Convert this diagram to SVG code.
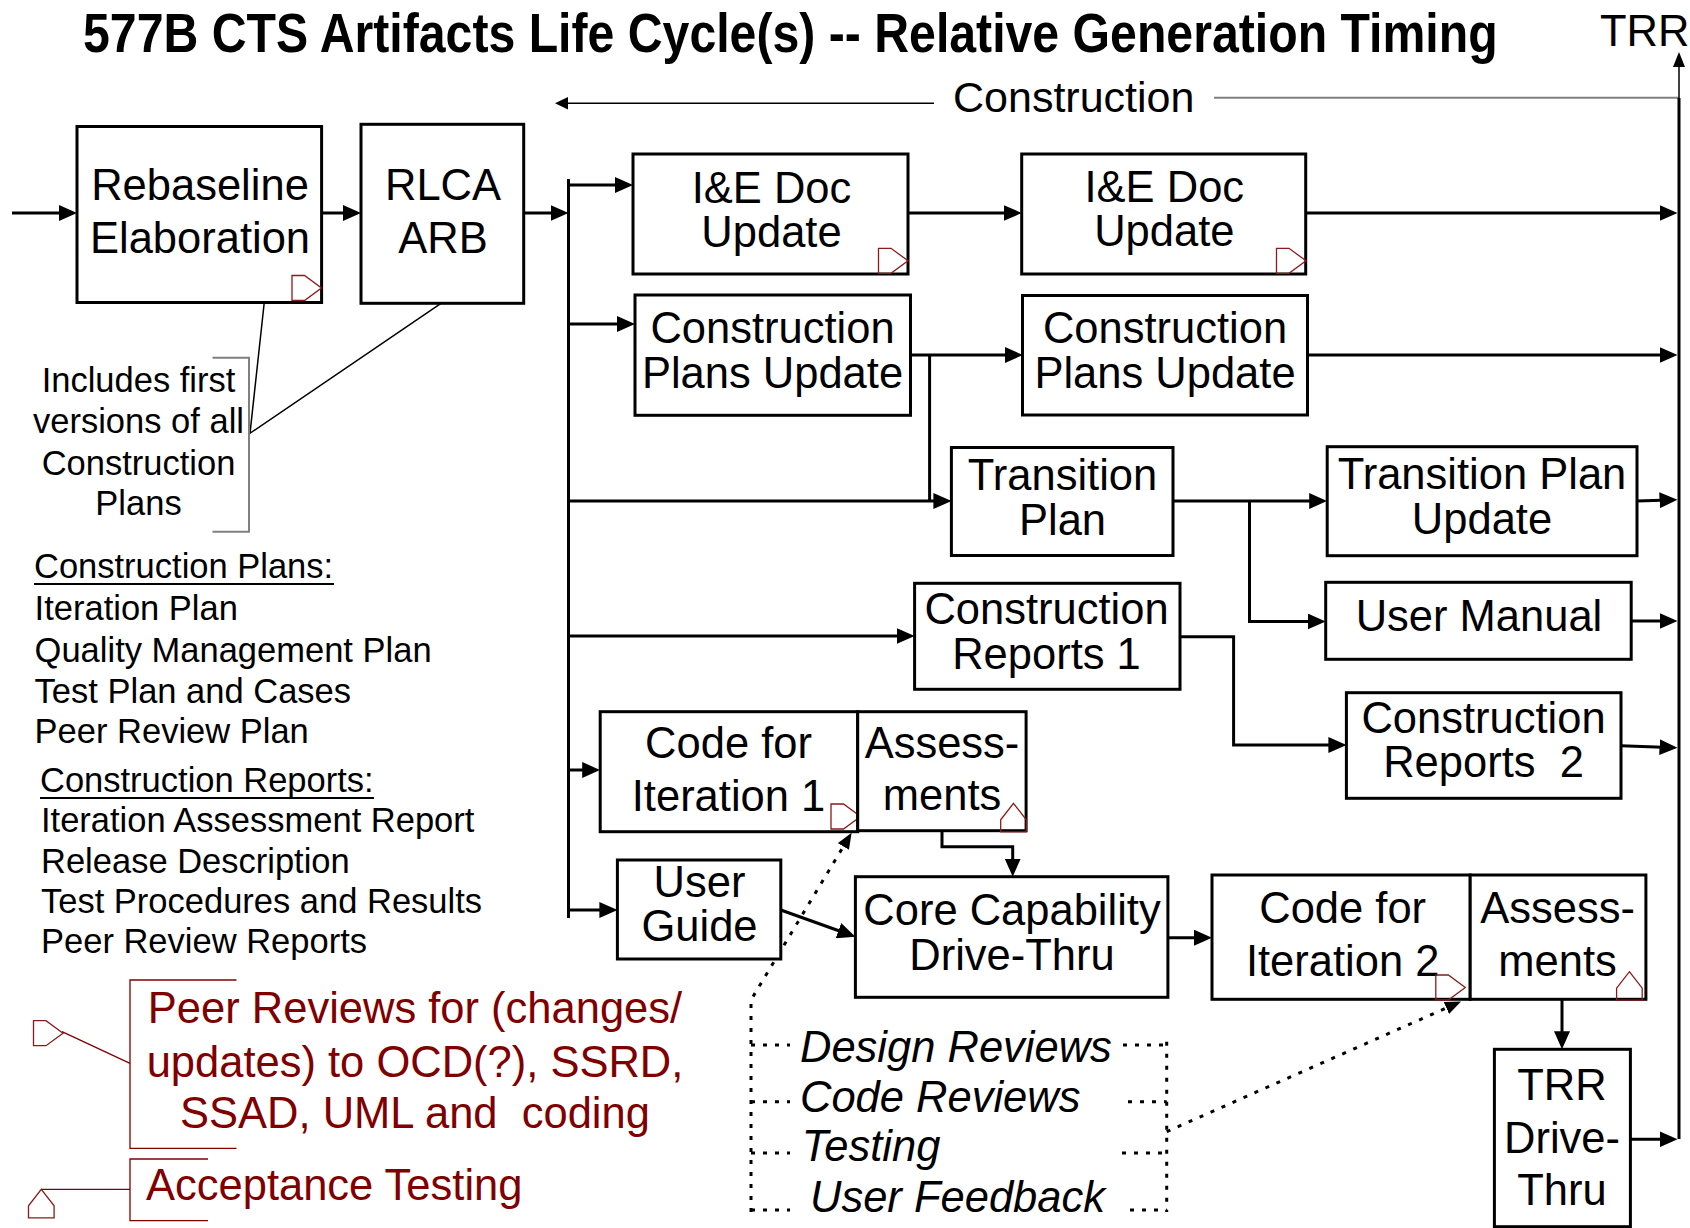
<svg xmlns="http://www.w3.org/2000/svg" width="1690" height="1228" viewBox="0 0 1690 1228">
<defs>
<style>
.box{fill:#fff;stroke:#000;stroke-width:3}
.lbl{font-family:"Liberation Sans",Arial,sans-serif;font-size:43.5px;fill:#000;text-anchor:middle}
.conn{fill:none;stroke:#000;stroke-width:3}
.arr{marker-end:url(#ah)}
.dot{fill:none;stroke:#000;stroke-width:3;stroke-dasharray:4 8}
.thin{fill:none;stroke:#000;stroke-width:1.5}
.gray{fill:none;stroke:#808080;stroke-width:2}
.act{fill:none;stroke:#8b1a1a;stroke-width:1.3}
.note{font-family:"Liberation Sans",Arial,sans-serif;font-size:34.5px;fill:#000}
.red{font-family:"Liberation Sans",Arial,sans-serif;font-size:43.5px;fill:#800000}
.redln{fill:none;stroke:#800000;stroke-width:1.3}
.ital{font-family:"Liberation Sans",Arial,sans-serif;font-size:43.5px;font-style:italic;fill:#000}
</style>
<marker id="ah" markerUnits="userSpaceOnUse" markerWidth="18" markerHeight="16" refX="10" refY="8" orient="auto"><path d="M0,0 L18,8 L0,16 Z" fill="#000"/></marker>
<marker id="ahs" markerUnits="userSpaceOnUse" markerWidth="16" markerHeight="13" refX="8" refY="6.5" orient="auto"><path d="M0,0 L16,6.5 L0,13 Z" fill="#000"/></marker>
<path id="actR" d="M0,0 H12.5 L29.5,12.5 L12.5,25 H0 Z"/>
<path id="actU" d="M12.8,0 L25.6,16.5 V28.5 H0 V16.5 Z"/>
</defs>
<rect width="1690" height="1228" fill="#fff"/>

<g id="title">
<text transform="translate(83,52) scale(0.861,1)" x="0" y="0" font-family="'Liberation Sans',Arial,sans-serif" font-size="56" font-weight="bold">577B CTS Artifacts Life Cycle(s) -- Relative Generation Timing</text>
<text x="1600" y="46" font-family="'Liberation Sans',Arial,sans-serif" font-size="43.5">TRR</text>
</g>

<g id="construction-span">
<polygon points="555,103.3 568,97 568,109.6" fill="#000"/>
<path class="thin" d="M566,103.3 H934"/>
<text x="953" y="112" font-family="'Liberation Sans',Arial,sans-serif" font-size="43">Construction</text>
<path class="gray" d="M1214,97.7 H1679"/>
</g>

<g id="connectors">
<!-- TRR bar -->
<polygon points="1679,52 1673,67 1685,67" fill="#000"/>
<path d="M1679,66 V98" stroke="#000" stroke-width="1.5" fill="none"/>
<path class="conn" d="M1679,98 V1139"/>
<!-- inputs -->
<path class="conn arr" d="M12,213 H69"/>
<path class="conn arr" d="M321.6,213 H353"/>
<path class="conn arr" d="M523.7,213 H560.5"/>
<!-- bus -->
<path class="conn" d="M568.5,179 V918"/>
<path class="conn arr" d="M568.5,185 H625"/>
<path class="conn arr" d="M568.5,324 H627"/>
<path class="conn arr" d="M568.5,501 H943.4"/>
<path class="conn arr" d="M568.5,636 H906.6"/>
<path class="conn arr" d="M568.5,770 H592.2"/>
<path class="conn arr" d="M568.5,910 H609.4"/>
<!-- I&E -->
<path class="conn arr" d="M908,213 H1013.7"/>
<path class="conn arr" d="M1305.7,213 H1669.5"/>
<!-- construction plans -->
<path class="conn arr" d="M910.5,355 H1014.9"/>
<path class="conn" d="M929.6,355 V501"/>
<path class="conn arr" d="M1307.5,355 H1669.5"/>
<!-- transition -->
<path class="conn arr" d="M1173,501 H1319.2"/>
<path class="conn arr" d="M1249.5,501 V621.5 H1317.7"/>
<path class="conn arr" d="M1637,501 L1669.5,500"/>
<path class="conn arr" d="M1631,621 H1669.5"/>
<!-- reports -->
<path class="conn arr" d="M1180,636.7 H1233.6 V745 H1338.4"/>
<path class="conn arr" d="M1621,745.7 L1669.5,747.5"/>
<!-- iteration 1 -->
<path class="conn arr" d="M942,830.7 V846.7 H1012.7 V868.7"/>
<path class="conn arr" d="M780.8,910 L847.9,934"/>
<path class="conn arr" d="M1168,937.7 H1204"/>
<path class="conn arr" d="M1562,999.3 V1041.3"/>
<path class="conn arr" d="M1630.4,1139.3 H1669.5"/>
<!-- dotted reviews -->
<path class="dot" d="M751,1212 V1000 L847.5,839.6" marker-end="url(#ahs)"/>
<path class="dot" d="M751,1045 H790 M751,1101.7 H790 M751,1153 H790 M751,1210 H790"/>
<path class="dot" d="M1166.7,1041.7 V1212"/>
<path class="dot" d="M1123,1045 H1166.7 M1128,1101.7 H1166.7 M1122,1153 H1166.7 M1130,1210 H1166.7"/>
<path class="dot" d="M1166.7,1131.7 L1453.7,1004.7" marker-end="url(#ahs)"/>
<!-- annotation leaders -->
<path class="thin" d="M264.3,302 L250,433.3 L441,303.3"/>
<path class="gray" d="M212.5,357.7 H249 V531.7 H212.5"/>
</g>

<g id="rebaseline">
<rect class="box" x="77" y="126.5" width="244.6" height="176"/>
<text class="lbl" x="200" y="200">Rebaseline</text>
<text class="lbl" x="200" y="253">Elaboration</text>
<use class="act" href="#actR" x="292" y="275.5"/>
</g>
<g id="rlca-arb">
<rect class="box" x="361" y="124.3" width="162.7" height="179"/>
<text class="lbl" x="443" y="200">RLCA</text>
<text class="lbl" x="443" y="253">ARB</text>
</g>
<g id="ie-doc-1">
<rect class="box" x="633" y="154" width="275" height="120"/>
<text class="lbl" x="771.5" y="203">I&amp;E Doc</text>
<text class="lbl" x="771.5" y="246.5">Update</text>
<use class="act" href="#actR" x="878.5" y="248.3"/>
</g>
<g id="ie-doc-2">
<rect class="box" x="1021.7" y="154" width="284" height="120"/>
<text class="lbl" x="1164.3" y="202">I&amp;E Doc</text>
<text class="lbl" x="1164.3" y="245.5">Update</text>
<use class="act" href="#actR" x="1276.5" y="248.3"/>
</g>
<g id="cpu-1">
<rect class="box" x="635" y="295" width="275.5" height="120.3"/>
<text class="lbl" x="772.5" y="343.3">Construction</text>
<text class="lbl" x="772.5" y="388.3">Plans Update</text>
</g>
<g id="cpu-2">
<rect class="box" x="1022.5" y="295.5" width="285" height="119.5"/>
<text class="lbl" x="1165" y="343.3">Construction</text>
<text class="lbl" x="1165" y="388.3">Plans Update</text>
</g>
<g id="transition-plan">
<rect class="box" x="951.4" y="447.5" width="221.6" height="108"/>
<text class="lbl" x="1062.5" y="490">Transition</text>
<text class="lbl" x="1062.5" y="535">Plan</text>
</g>
<g id="transition-plan-update">
<rect class="box" x="1327.2" y="446.7" width="309.8" height="109"/>
<text class="lbl" x="1482" y="489.3">Transition Plan</text>
<text class="lbl" x="1482" y="534">Update</text>
</g>
<g id="user-manual">
<rect class="box" x="1325.7" y="582.3" width="305.5" height="77"/>
<text class="lbl" x="1479" y="631">User Manual</text>
</g>
<g id="construction-reports-1">
<rect class="box" x="914.6" y="583.3" width="265.4" height="106"/>
<text class="lbl" x="1046.5" y="624.3">Construction</text>
<text class="lbl" x="1046.5" y="669.3">Reports 1</text>
</g>
<g id="construction-reports-2">
<rect class="box" x="1346.4" y="692.7" width="274.6" height="105.6"/>
<text class="lbl" x="1483.5" y="733.3">Construction</text>
<text class="lbl" x="1483.5" y="776.7" xml:space="preserve">Reports  2</text>
</g>
<g id="code-iteration-1">
<rect class="box" x="600.2" y="711.7" width="257.5" height="120"/>
<text class="lbl" x="728.5" y="757.7">Code for</text>
<text class="lbl" x="728.5" y="810.7">Iteration 1</text>
<use class="act" href="#actR" x="831" y="804"/>
</g>
<g id="assessments-1">
<rect class="box" x="857.7" y="711.7" width="168.4" height="119"/>
<text class="lbl" x="942" y="757.7">Assess-</text>
<text class="lbl" x="942" y="810">ments</text>
<use class="act" href="#actU" x="1000.7" y="803.3"/>
</g>
<g id="user-guide">
<rect class="box" x="617.4" y="860" width="163.4" height="99"/>
<text class="lbl" x="699.5" y="896.7">User</text>
<text class="lbl" x="699.5" y="941">Guide</text>
</g>
<g id="core-capability">
<rect class="box" x="855.4" y="876.7" width="312.5" height="120.6"/>
<text class="lbl" x="1012" y="925">Core Capability</text>
<text class="lbl" x="1012" y="970">Drive-Thru</text>
</g>
<g id="code-iteration-2">
<rect class="box" x="1212" y="875" width="258.2" height="124.3"/>
<text class="lbl" x="1342.7" y="922.7">Code for</text>
<text class="lbl" x="1342.7" y="976">Iteration 2</text>
<use class="act" href="#actR" x="1435.8" y="975"/>
</g>
<g id="assessments-2">
<rect class="box" x="1470.2" y="875" width="175.7" height="124.3"/>
<text class="lbl" x="1557.6" y="922.7">Assess-</text>
<text class="lbl" x="1557.6" y="976">ments</text>
<use class="act" href="#actU" x="1616.6" y="971.7"/>
</g>
<g id="trr-drive-thru">
<rect class="box" x="1494.4" y="1049.3" width="136" height="177.4"/>
<text class="lbl" x="1562" y="1100">TRR</text>
<text class="lbl" x="1562" y="1152.7">Drive-</text>
<text class="lbl" x="1562" y="1205">Thru</text>
</g>

<g id="includes-note">
<text class="note" text-anchor="middle" x="138.5" y="391.7">Includes first</text>
<text class="note" text-anchor="middle" x="138.5" y="433.3">versions of all</text>
<text class="note" text-anchor="middle" x="138.5" y="475">Construction</text>
<text class="note" text-anchor="middle" x="138.5" y="515">Plans</text>
</g>
<g id="construction-plans-list">
<text class="note" x="34" y="578.3">Construction Plans:</text>
<path d="M34,584 H334" stroke="#000" stroke-width="2"/>
<text class="note" x="34.6" y="620">Iteration Plan</text>
<text class="note" x="34.6" y="661.7">Quality Management Plan</text>
<text class="note" x="34.6" y="703.3">Test Plan and Cases</text>
<text class="note" x="34.6" y="743.3">Peer Review Plan</text>
</g>
<g id="construction-reports-list">
<text class="note" x="40" y="791.7">Construction Reports:</text>
<path d="M40,798 H374" stroke="#000" stroke-width="2"/>
<text class="note" x="41" y="831.7">Iteration Assessment Report</text>
<text class="note" x="41" y="873.3">Release Description</text>
<text class="note" x="41" y="913.3">Test Procedures and Results</text>
<text class="note" x="41" y="953.3">Peer Review Reports</text>
</g>
<g id="review-activities">
<text class="ital" x="800" y="1061.7">Design Reviews</text>
<text class="ital" x="800" y="1111.7">Code Reviews</text>
<text class="ital" x="801.7" y="1161">Testing</text>
<text class="ital" x="810" y="1211.7">User Feedback</text>
</g>
<g id="peer-reviews-legend">
<path class="redln" d="M236.5,980 H130 V1148.3 H236.5"/>
<path class="redln" d="M130,1063.3 L62,1031.7"/>
<use class="act" href="#actR" x="33.5" y="1020.7"/>
<text class="red" text-anchor="middle" x="415" y="1023.3">Peer Reviews for (changes/</text>
<text class="red" text-anchor="middle" x="415" y="1076.7">updates) to OCD(?), SSRD,</text>
<text class="red" text-anchor="middle" x="415" y="1128.3" xml:space="preserve">SSAD, UML and  coding</text>
</g>
<g id="acceptance-legend">
<path class="redln" d="M208,1159 H130 V1220.7 H208"/>
<path class="redln" d="M130,1189.3 H41.3"/>
<use class="act" href="#actU" x="28.5" y="1189.3"/>
<text class="red" x="146" y="1200">Acceptance Testing</text>
</g>
</svg>
